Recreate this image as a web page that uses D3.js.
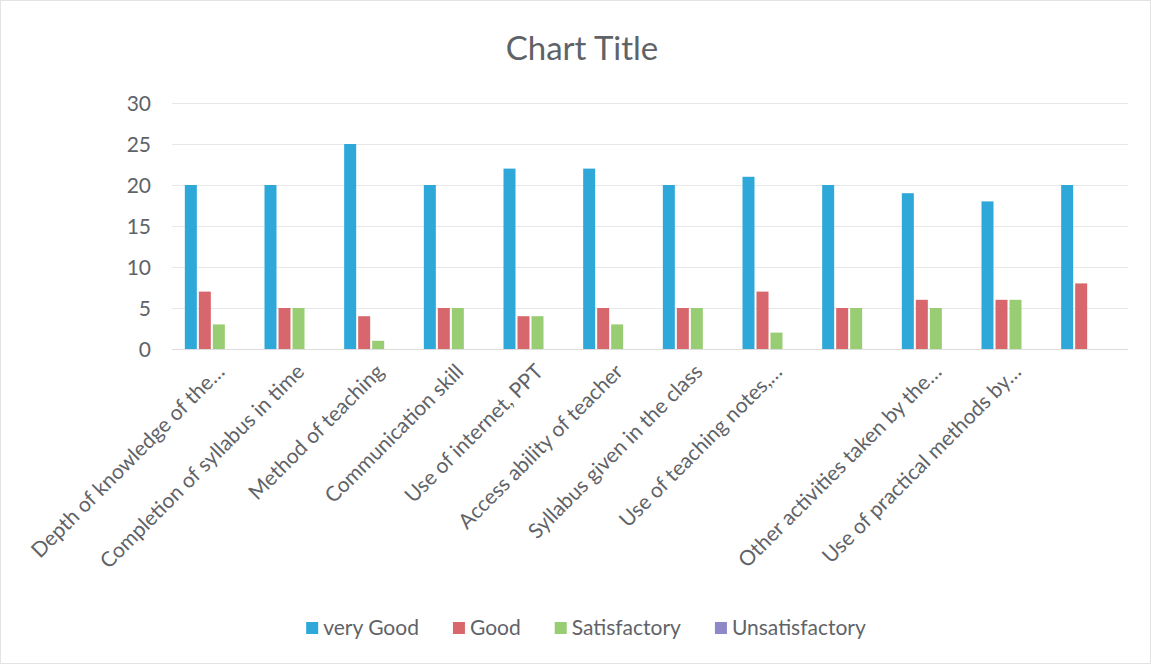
<!DOCTYPE html>
<html>
<head>
<meta charset="utf-8">
<script src="https://cdn.jsdelivr.net/npm/d3@7"></script>
<style>
  html, body { margin: 0; padding: 0; background: #fff; }
  svg { display: block; }
  text { font-family: Lato, "Open Sans", sans-serif; fill: #5f6368; }
</style>
</head>
<body>
<svg id="chart" width="1151" height="664"></svg>
<script>
const categories = [
  "Depth of knowledge of the…",
  "Completion of syllabus in time",
  "Method of teaching",
  "Communication skill",
  "Use of internet, PPT",
  "Access ability of teacher",
  "Syllabus given in the class",
  "Use of teaching notes,…",
  "",
  "Other activities taken by the…",
  "Use of practical methods by…",
  ""
];
const seriesNames = ["very Good", "Good", "Satisfactory", "Unsatisfactory"];
const veryGood       = [20, 20, 25, 20, 22, 22, 20, 21, 20, 19, 18, 20];
const good           = [7, 5, 4, 5, 4, 5, 5, 7, 5, 6, 6, 8];
const satisfactory   = [3, 5, 1, 5, 4, 3, 5, 2, 5, 5, 6, 0];
const unsatisfactory = [0, 0, 0, 0, 0, 0, 0, 0, 0, 0, 0, 0];
const yTicks = [0, 5, 10, 15, 20, 25, 30];
const colors = ["#2ea7d9", "#d8676d", "#98cd74", "#8e88c9"];

const seriesValues = [veryGood, good, satisfactory, unsatisfactory];
const svg = d3.select("#chart");
const W = 1151, H = 664;
const margin = { left: 172, right: 23, top: 103, plotBottom: 349 };

svg.append("rect").attr("x", 0.5).attr("y", 0.5).attr("width", W - 1).attr("height", H - 1)
  .attr("fill", "#fff").attr("stroke", "#e3e3e3");

const x0 = d3.scaleBand().domain(d3.range(categories.length))
  .range([margin.left, W - margin.right]).paddingInner(0).paddingOuter(0);
const y = d3.scaleLinear().domain([0, 30]).range([margin.plotBottom, margin.top]);

// grid
svg.append("g").selectAll("line").data(yTicks).join("line")
  .attr("x1", margin.left).attr("x2", W - margin.right)
  .attr("y1", d => Math.round(y(d)) + 0.5).attr("y2", d => Math.round(y(d)) + 0.5)
  .attr("stroke", d => d === 0 ? "#dcdcdc" : "#e8e8e8").attr("stroke-width", 1);

// y axis labels
const yAxis = d3.axisLeft(y).tickValues(yTicks).tickSize(0).tickPadding(0);
const ga = svg.append("g").attr("transform", `translate(${151},0)`).call(yAxis);
ga.select(".domain").remove();
ga.selectAll("text").attr("font-size", 21).style("font-family", "Lato, sans-serif").attr("fill", "#5f6368").attr("dy", "0.35em");

// bars
const barW = 12, barGap = 2;
const groupW = seriesNames.length * barW + (seriesNames.length - 1) * barGap;
const xs = d3.scaleBand().domain(d3.range(seriesNames.length)).range([0, groupW]).paddingInner(barGap / (barW + barGap));
const gBars = svg.append("g");
seriesValues.forEach((vals, si) => {
  gBars.append("g").selectAll("rect").data(vals).join("rect")
    .attr("x", (d, i) => x0(i) + (x0.bandwidth() - groupW) / 2 + xs(si))
    .attr("width", xs.bandwidth())
    .attr("y", d => y(d))
    .attr("height", d => y(0) - y(d))
    .attr("fill", colors[si]);
});

// x labels
svg.append("g").selectAll("text").data(categories).join("text")
  .attr("transform", (d, i) => `translate(${x0(i) + x0.bandwidth() / 2 + 14},${373}) rotate(-45)`)
  .attr("text-anchor", "end")
  .attr("font-size", 21)
  .text(d => d);

// title
svg.append("text").attr("x", 582).attr("y", 60).attr("text-anchor", "middle")
  .attr("font-size", 33).text("Chart Title");

// legend
const legend = svg.append("g");
let lx = 0;
seriesNames.forEach((name, i) => {
  const g = legend.append("g");
  g.append("rect").attr("x", 0).attr("y", -6).attr("width", 12).attr("height", 12).attr("fill", colors[i]);
  const t = g.append("text").attr("x", 17).attr("y", 0).attr("dy", "0.35em").attr("font-size", 21).text(name);
  const w = 17 + t.node().getComputedTextLength();
  g.attr("transform", `translate(${lx},0)`);
  lx += w + 34;
});
const totalW = lx - 34;
legend.attr("transform", `translate(${586 - totalW / 2},628)`);
</script>
</body>
</html>
